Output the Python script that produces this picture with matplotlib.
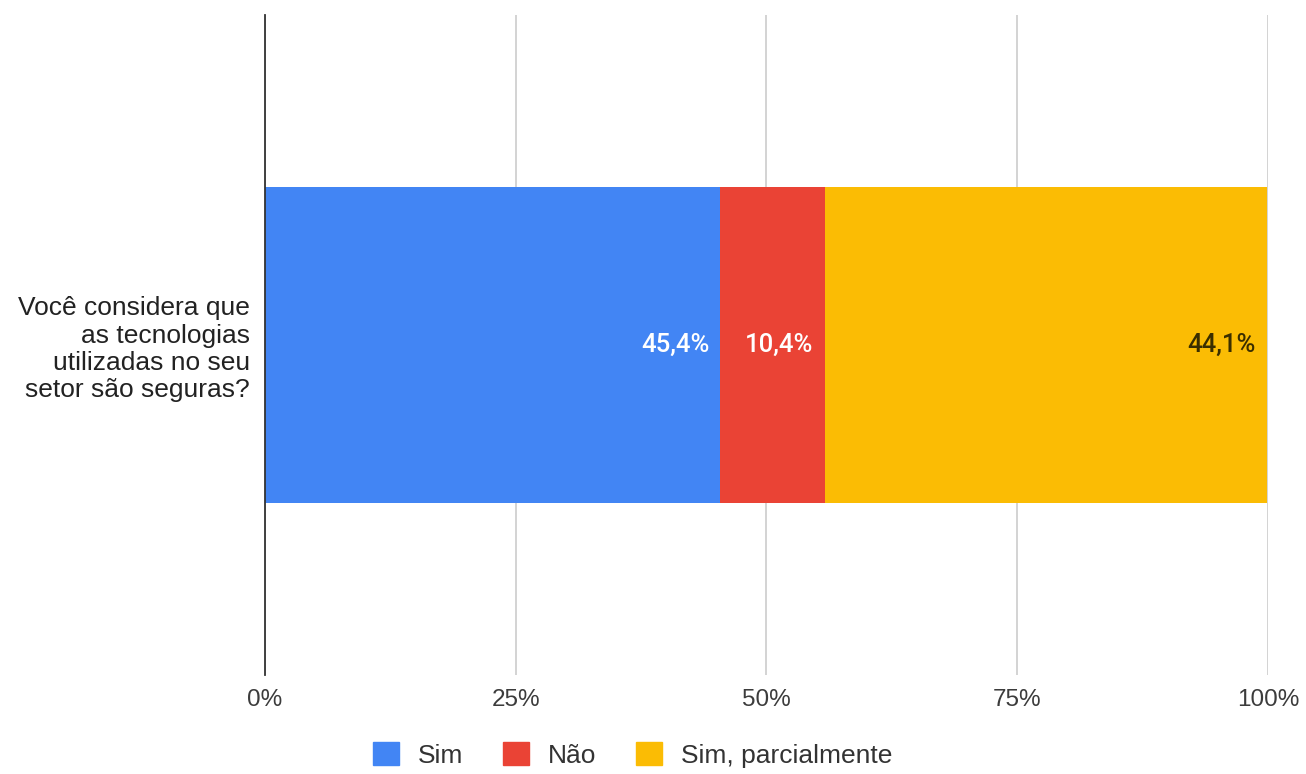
import matplotlib.pyplot as plt
import matplotlib.ticker as mticker
from matplotlib.patches import Patch

# survey answers (percent)
question = "Você considera que\nas tecnologias\nutilizadas no seu\nsetor são seguras?"
answers = ["Sim", "Não", "Sim, parcialmente"]
shares = [45.4, 10.4, 44.1]
colors = ["#4285F4", "#EA4335", "#FBBC04"]
label_colors = ["white", "white", "#3a2e00"]
ticks = [0, 25, 50, 75, 100]

plt.rcParams['font.family'] = ['Liberation Sans', 'DejaVu Sans']

fig = plt.figure(figsize=(13.06, 7.74), dpi=100)
ax = fig.add_axes([0.2029, 0.1279, 0.768, 0.8527])

left = 0
for name, val, col, lc in zip(answers, shares, colors, label_colors):
    ax.barh([0], [val], left=left, height=0.48, color=col, zorder=3)
    ax.text(left + val - 1.1, 0, f"{val:.1f}%".replace(".", ","),
            ha="right", va="center", color=lc, fontsize=18.5,
            family=["Roboto", "DejaVu Sans"], fontweight="medium", zorder=4)
    left += val

ax.set_xlim(0, 100)
ax.set_ylim(-0.5, 0.5)
ax.set_xticks(ticks)
ax.xaxis.set_major_formatter(mticker.FuncFormatter(lambda v, p: f"{v:.0f}%"))
ax.grid(axis="x", color="#cccccc", linewidth=1.2, zorder=0)
ax.set_yticks([0])
ax.set_yticklabels([question], fontsize=19, color="#222222", ha="right",
                   linespacing=1.18)
ax.tick_params(axis="both", length=0)
ax.tick_params(axis="x", pad=10, labelsize=17.5, labelcolor="#3c3c3c")
ax.tick_params(axis="y", pad=11, labelcolor="#222222")
for side in ["top", "right", "bottom"]:
    ax.spines[side].set_visible(False)
ax.spines["left"].set_color("#333333")
ax.spines["left"].set_linewidth(1.3)
ax.spines["left"].set_zorder(5)

handles = [Patch(facecolor=c, edgecolor=c) for c in colors]
fig.legend(handles, answers, loc="center", bbox_to_anchor=(0.4843, 0.025),
           ncol=3, frameon=False, fontsize=19, handlelength=1.0,
           handleheight=1.0, columnspacing=1.5, handletextpad=0.7,
           labelcolor="#333333")

fig.savefig("out.png", dpi=100)
